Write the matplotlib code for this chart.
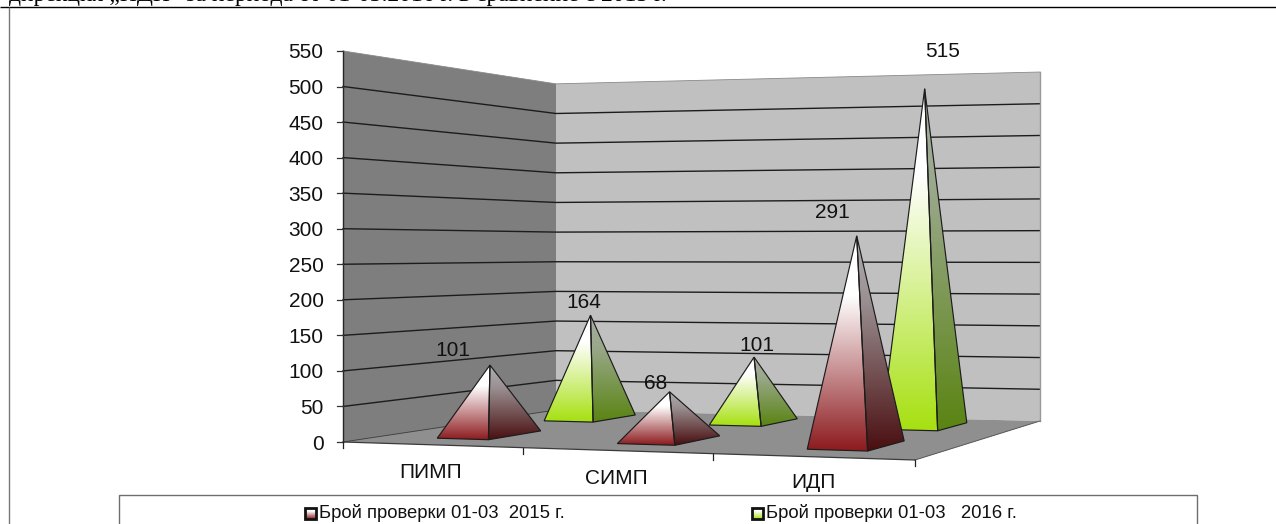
import numpy as np
import matplotlib
matplotlib.use("Agg")
import matplotlib.pyplot as plt
from matplotlib.colors import LinearSegmentedColormap
from matplotlib.patches import Polygon, Rectangle

# Inspection counts per unit and period
categories = ["ПИМП", "СИМП", "ИДП"]
series_2015 = [101, 68, 291]
series_2016 = [164, 101, 515]
series_names = ["Брой проверки 01-03  2015 г.", "Брой проверки 01-03   2016 г."]
y_ticks = list(range(0, 600, 50))

plt.rcParams["font.family"] = ["Liberation Sans", "DejaVu Sans"]
W, H = 1276, 524
fig = plt.figure(figsize=(W / 100, H / 100), dpi=100, facecolor="white")
ax = fig.add_axes([0, 0, 1, 1])

# Floor corners on the canvas: front-left, front-right, back-right, back-left
FL, FR, BR, BL = map(np.array, [(343.0, 442.0), (915.0, 460.0), (1040.0, 421.0), (556.0, 410.0)])
# Pixels per value unit at the same four corners
K_FL, K_FR, K_BR, K_BL = 0.711, 0.76, 0.6345, 0.593


def build_homography():
    dx1, dx2, s = FR - BR, BL - BR, FL - FR + BR - BL
    det = dx1[0] * dx2[1] - dx2[0] * dx1[1]
    g = (s[0] * dx2[1] - dx2[0] * s[1]) / det
    h = (dx1[0] * s[1] - s[0] * dx1[1]) / det
    return g, h, FR - FL + g * FR, BL - FL + h * BL


G, HH, A_COL, B_COL = build_homography()


def project(cat, depth, value=0.0):
    """Map category position, depth (0 front, 1 back) and value to canvas pixels."""
    u = cat / len(categories)
    w = 1 + G * u + HH * depth
    p = (A_COL * u + B_COL * depth + FL) / w
    k = (K_FL * (1 - u) + K_FR * u) * (1 - depth) + (K_BL * (1 - u) + K_BR * u) * depth
    return np.array([p[0], p[1] - value * k])


def gradient_cmap(stops):
    return LinearSegmentedColormap.from_list("g", stops)


RED_FRONT = gradient_cmap([(0, "#ffffff"), (0.28, "#ffffff"), (1, "#8c1a1e")])
RED_SIDE = gradient_cmap([(0, "#b0b0b0"), (0.3, "#9a9092"), (1, "#4a0e10")])
GREEN_FRONT = gradient_cmap([(0, "#ffffff"), (0.25, "#ffffff"), (1, "#a6e010")])
GREEN_SIDE = gradient_cmap([(0, "#a8ada4"), (0.3, "#99a88a"), (1, "#5a8412")])


def fill_gradient(poly, y_top, y_bottom, cmap, zorder):
    """Paint a polygon with a vertical gradient between two canvas heights."""
    patch = Polygon(poly, closed=True, facecolor="none", edgecolor="none", zorder=zorder)
    ax.add_patch(patch)
    xs = poly[:, 0]
    grad = np.linspace(0, 1, 256).reshape(-1, 1)
    im = ax.imshow(grad, cmap=cmap, vmin=0, vmax=1, aspect="auto", interpolation="bilinear",
                   extent=(xs.min() - 1, xs.max() + 1, y_bottom, y_top), zorder=zorder)
    im.set_clip_path(patch)


def draw_pyramid(cat, width_band, depth_band, value, front_cmap, side_cmap, zorder):
    u0, u1 = cat + width_band[0], cat + width_band[1]
    v0, v1 = depth_band
    left, front, right = project(u0, v0), project(u1, v0), project(u1, v1)
    apex = project((u0 + u1) / 2, (v0 + v1) / 2, value)
    front_face = np.array([apex, left, front])
    side_face = np.array([apex, front, right])
    y_bottom = max(left[1], front[1], right[1])
    fill_gradient(front_face, apex[1], y_bottom, front_cmap, zorder)
    fill_gradient(side_face, apex[1], y_bottom, side_cmap, zorder)
    ax.add_patch(Polygon(front_face, closed=True, fill=False, edgecolor="#1c1c1c", lw=0.85, zorder=zorder + 0.1))
    ax.add_patch(Polygon(side_face, closed=True, fill=False, edgecolor="#1c1c1c", lw=0.85, zorder=zorder + 0.1))
    return apex


# Walls and floor
n = len(categories)
top = y_ticks[-1]
ax.add_patch(Polygon([project(0, 0), project(0, 1), project(0, 1, top), project(0, 0, top)],
                     closed=True, facecolor="#7e7e7e", edgecolor="none", zorder=1))
ax.add_patch(Polygon([project(0, 1), project(n, 1), project(n, 1, top), project(0, 1, top)],
                     closed=True, facecolor="#c0c0c0", edgecolor="none", zorder=1))
ax.add_patch(Polygon([project(0, 0), project(n, 0), project(n, 1), project(0, 1)],
                     closed=True, facecolor="#8f8f8f", edgecolor="none", zorder=1))

# Gridlines run along both walls
for tick in y_ticks[1:-1]:
    pts = np.array([project(0, 0, tick), project(0, 1, tick), project(n, 1, tick)])
    ax.plot(pts[:, 0], pts[:, 1], color="#1c1c1c", lw=1.0, zorder=2, solid_joinstyle="miter")

top_pts = np.array([project(0, 0, top), project(0, 1, top), project(n, 1, top)])
ax.plot(top_pts[:, 0], top_pts[:, 1], color="#8a8a8a", lw=0.6, zorder=2)
edge = np.array([project(n, 1), project(n, 1, top)])
ax.plot(edge[:, 0], edge[:, 1], color="#9a9a9a", lw=1.0, zorder=2)
floor_back = np.array([project(0, 0), project(0, 1)])
ax.plot(floor_back[:, 0], floor_back[:, 1], color="#333333", lw=0.6, zorder=2)
floor_side = np.array([project(n, 0), project(n, 1)])
ax.plot(floor_side[:, 0], floor_side[:, 1], color="#555555", lw=0.7, zorder=2)

# Value axis
axis = np.array([project(0, 0), project(0, 0, top)])
ax.plot(axis[:, 0], axis[:, 1], color="#262626", lw=1.0, zorder=3)
for tick in y_ticks:
    p = project(0, 0, tick)
    ax.plot([p[0] - 6, p[0]], [p[1], p[1]], color="#333333", lw=0.9, zorder=3)
    ax.text(p[0] - 19.5, p[1] + 2, str(tick), ha="right", va="center", fontsize=15, color="#111111", zorder=6)

# Category axis; the inner ticks lean slightly right of a strict perspective split
front_edge = np.array([project(0, 0), project(n, 0)])
ax.plot(front_edge[:, 0], front_edge[:, 1], color="#3a3a3a", lw=0.9, zorder=3)
tick_nudge = [0, 0.028, 0.025, 0]
for c in range(n + 1):
    p = project(c + tick_nudge[c], 0)
    ax.plot([p[0], p[0]], [p[1], p[1] + 6], color="#222222", lw=0.9, zorder=3)

cat_label_xy = [(431, 473), (616, 478), (813, 483)]
for name, (x, y) in zip(categories, cat_label_xy):
    ax.text(x, y, name, ha="center", va="center", fontsize=15, color="#111111", zorder=6)

# Pyramids: the rear row goes first so the front row overlaps it
rear_band, front_band = (0.66, 0.90), (0.147, 0.39)
rear_widths = [(0.335, 0.645), (0.355, 0.66), (0.34, 0.65)]
front_widths = [(0.345, 0.645), (0.37, 0.68), (0.365, 0.665)]
apex_2016 = [draw_pyramid(c, rear_widths[c], rear_band, v, GREEN_FRONT, GREEN_SIDE, 4 + c * 0.2)
             for c, v in enumerate(series_2016)]
apex_2015 = [draw_pyramid(c, front_widths[c], front_band, v, RED_FRONT, RED_SIDE, 5 + c * 0.2)
             for c, v in enumerate(series_2015)]

# Value captions sit at these shifts from each apex
offsets_2015 = [(-37, -15), (-14, -8), (-24, -23)]
offsets_2016 = [(-7, -13), (3, -12), (18, -37)]
for values, apexes, offsets in ((series_2015, apex_2015, offsets_2015), (series_2016, apex_2016, offsets_2016)):
    for v, a, off in zip(values, apexes, offsets):
        ax.text(a[0] + off[0], a[1] + off[1], str(v), ha="center", va="center",
                fontsize=15, color="#111111", zorder=7)

# Legend box, cut by the lower page edge
ax.add_patch(Rectangle((119, 495), 1078, 60, facecolor="white", edgecolor="#6e6e6e", lw=1.0, zorder=8))
legend_keys = [(305, RED_FRONT), (752, GREEN_FRONT)]
for (x, cmap), name in zip(legend_keys, series_names):
    key = np.array([(x, 508), (x + 11, 508), (x + 11, 519), (x, 519)], dtype=float)
    fill_gradient(key, 508, 519, cmap, 9)
    ax.add_patch(Rectangle((x, 508), 11, 11, fill=False, edgecolor="#111111", lw=2.0, zorder=9.5))
    ax.text(x + 14, 513.5, name, ha="left", va="center", fontsize=13.3, color="#111111", zorder=10)

# Page frame and the tail of the document line above it
ax.plot([0, W], [7, 7], color="black", lw=1.0, zorder=10, solid_capstyle="butt")
ax.plot([9, 9], [7, H], color="#777777", lw=1.0, zorder=10, solid_capstyle="butt")
ax.text(9, 0.5, "дирекция „ИДП“ за периода от 01-03.2016 г. в сравнение с 2015 г.",
        family="Liberation Serif", fontsize=17, ha="left", va="baseline", color="black", zorder=10)

ax.set_xlim(0, W)
ax.set_ylim(H, 0)
ax.axis("off")
fig.savefig("out.png", dpi=100, facecolor="white")
